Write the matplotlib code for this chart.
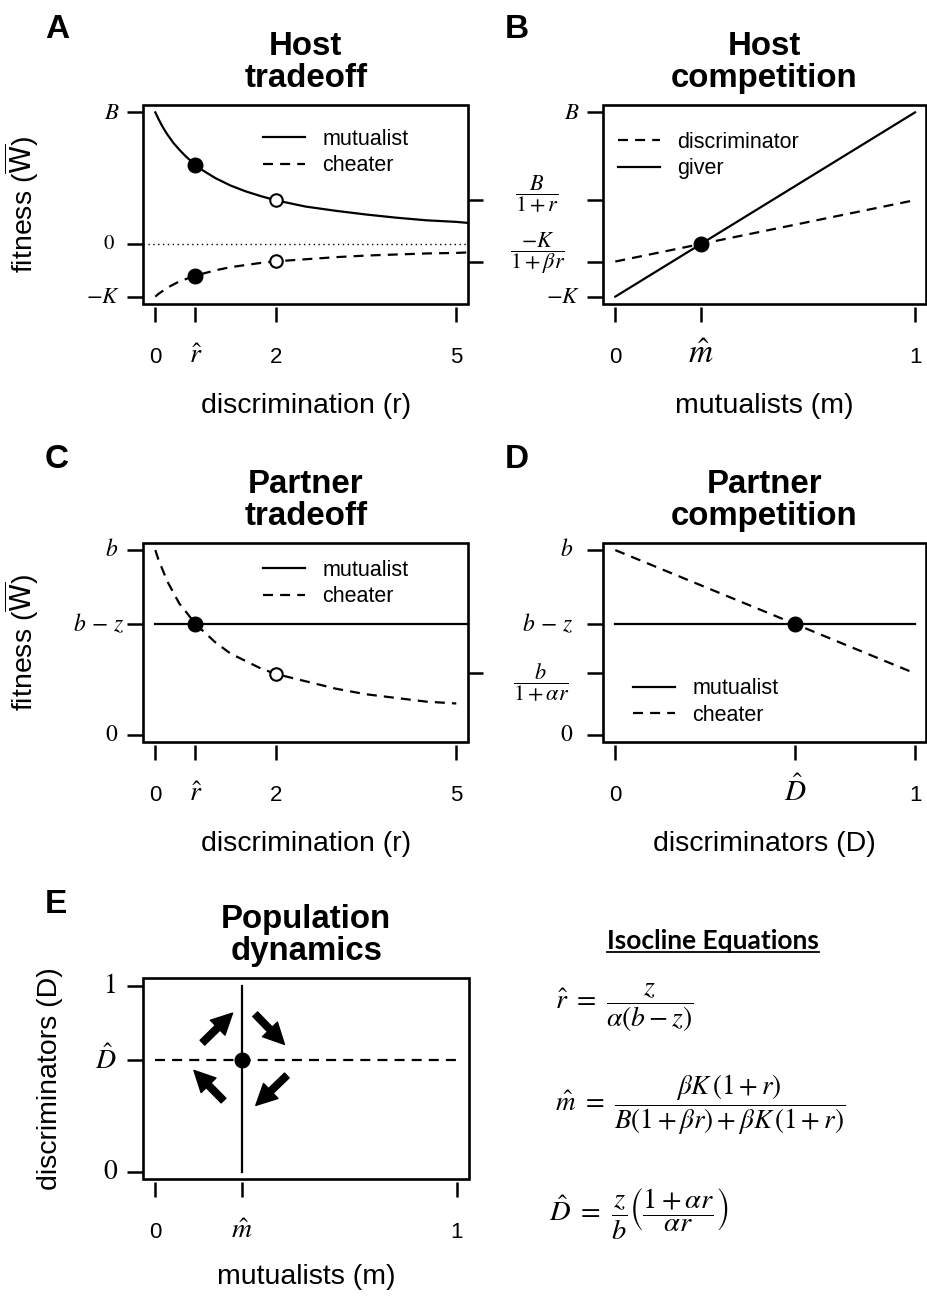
import matplotlib

matplotlib.use("Agg")
import matplotlib.pyplot as plt
from matplotlib.lines import Line2D
from matplotlib.patches import Rectangle
from matplotlib.transforms import ScaledTranslation

W, H, DPI = 927, 1296, 100

plt.rcParams["font.family"] = "Liberation Sans"
plt.rcParams["mathtext.fontset"] = "stix"

# ---- values ----
R_HAT = 0.667
M_HAT = 0.286
D_HAT = 0.6

R_GRID = [0, 0.05, 0.1, 0.15, 0.2, 0.3, 0.4, 0.5, 0.667, 0.8, 1.0, 1.25,
          1.5, 1.75, 2.0, 2.5, 3.0, 3.5, 4.0, 4.5, 5.0, 5.2]
HOST_MUTUALIST = [2.50, 2.38, 2.27, 2.17, 2.08, 1.92, 1.79, 1.67, 1.50, 1.39,
                  1.25, 1.11, 1.00, 0.91, 0.83, 0.71, 0.63, 0.56, 0.50, 0.45,
                  0.42, 0.40]
HOST_CHEATER = [-1.00, -0.95, -0.91, -0.87, -0.83, -0.77, -0.71, -0.67, -0.60,
                -0.56, -0.50, -0.44, -0.40, -0.36, -0.33, -0.29, -0.25, -0.22,
                -0.20, -0.18, -0.17, -0.16]
HOST_FILLED_Y = [1.50, -0.60]
HOST_OPEN_Y = [0.83, -0.33]

PARTNER_CHEATER = [1.00, 0.95, 0.91, 0.87, 0.83, 0.77, 0.71, 0.67, 0.60, 0.56,
                   0.50, 0.44, 0.40, 0.36, 0.33, 0.29, 0.25, 0.22, 0.20, 0.18,
                   0.17]
PARTNER_MUT_R = [0, 5.2]
PARTNER_MUTUALIST = [0.6, 0.6]
PARTNER_FILLED_Y = [0.6]
PARTNER_OPEN_Y = [0.33]

M_ENDS = [0, 1]
GIVER = [-1.0, 2.5]
DISCRIMINATOR = [-0.333, 0.833]

D_ENDS = [0, 1]
D_MUTUALIST = [0.6, 0.6]
D_CHEATER = [1.0, 0.333]

ARROW_START = [(0.156, 0.694), (0.331, 0.847), (0.436, 0.518), (0.226, 0.383)]
ARROW_END = [(0.256, 0.853), (0.428, 0.685), (0.333, 0.357), (0.128, 0.545)]

# tick positions / labels
R_TICKS = [0, R_HAT, 2, 5]
R_LABELS = ["0", r"$\hat{r}$", "2", "5"]
UNIT_TICKS_M = [0, M_HAT, 1]
UNIT_TICKS_D = [0, D_HAT, 1]

LW = 1.6
DASH = (0, (4.5, 3.2))
DIGIT = 16

fig = plt.figure(figsize=(W / DPI, H / DPI), dpi=DPI)


def px(dx, dy):
    return ScaledTranslation(dx / DPI, dy / DPI, fig.dpi_scale_trans)


def make_axes(box, xlim, ylim):
    l, t, r, b = box
    ax = fig.add_axes([l / W, 1 - b / H, (r - l) / W, (b - t) / H])
    ax.set_xlim(xlim)
    ax.set_ylim(ylim)
    for s in ax.spines.values():
        s.set_visible(False)
    ax.spines["bottom"].set_position(("outward", 2.2))
    ax.add_patch(Rectangle((0, 0), 1, 1, transform=ax.transAxes, fill=False,
                           lw=1.9, clip_on=False, zorder=5))
    ax.tick_params(axis="x", length=10.8, width=1.8, labelbottom=False)
    ax.tick_params(axis="y", length=11.5, width=1.8, labelleft=False)
    return ax


def xticklabels(ax, ticks, labels, sizes):
    ax.set_xticks(ticks)
    tr = ax.get_xaxis_transform() + px(0, -59)
    for x, s, fs in zip(ticks, labels, sizes):
        ax.text(x, 0, s, transform=tr, ha="center", va="baseline", fontsize=fs)


def yticklabel(ax, y, s, fs, gap, dy=0, ha="right"):
    tr = ax.get_yaxis_transform() + px(-gap, dy)
    ax.text(0, y, s, transform=tr, ha=ha, va="center", fontsize=fs)


def titles(ax, top, bottom, letter, pos):
    tr1 = ax.transAxes + px(0, 50)
    tr2 = ax.transAxes + px(0, 18)
    ax.text(0.5, 1, top, transform=tr1, ha="center", va="baseline",
            fontsize=23.8, fontweight="bold")
    ax.text(0.5, 1, bottom, transform=tr2, ha="center", va="baseline",
            fontsize=23.8, fontweight="bold")
    fig.text(pos[0] / W, 1 - pos[1] / H, letter, ha="left", va="baseline",
             fontsize=24, fontweight="bold")


def xlabel(ax, s, below=109):
    ax.text(0.5, 0, s, transform=ax.transAxes + px(0, -below), ha="center",
            va="baseline", fontsize=20.5)


def ylabel(ax, s, left, **kw):
    ax.text(0, 0.5, s, transform=ax.transAxes + px(-left, 0), ha="center",
            va="baseline", rotation=90, rotation_mode="anchor", fontsize=20.5,
            **kw)


def legend(ax, handles, labels, x, y):
    ax.legend(handles, labels, loc="upper left", bbox_to_anchor=(x, y),
              frameon=False, fontsize=15.5, handlelength=1.95,
              handletextpad=0.8, labelspacing=0.26, borderpad=0,
              borderaxespad=0)


W_LABEL = r"fitness ($\overline{\mathrm{W}}$)"

# ---------------- A: host tradeoff ----------------
axA = make_axes((143.3, 105, 468.3, 304), (-0.2, 5.2), (-1.14, 2.64))
titles(axA, "Host", "tradeoff", "A", (45, 38))
lm, = axA.plot(R_GRID, HOST_MUTUALIST, color="black", lw=LW)
lc, = axA.plot(R_GRID, HOST_CHEATER, color="black", lw=LW, ls=DASH)
axA.axhline(0, color="black", lw=1.0, ls=(0, (1, 2.5)))
axA.plot([R_HAT, R_HAT], HOST_FILLED_Y, "o", color="black", ms=10.5, zorder=4)
axA.plot([2, 2], HOST_OPEN_Y, "o", mfc="white", mec="black", mew=1.5, ms=9,
         zorder=4)
xticklabels(axA, R_TICKS, R_LABELS, [DIGIT, 20, DIGIT, DIGIT])
axA.set_yticks([2.5, 0, -1])
yticklabel(axA, 2.5, r"$B$", 16.5, 24)
yticklabel(axA, 0, r"$0$", 15, 28)
yticklabel(axA, -1, r"$-K$", 16.5, 23)
secA = axA.secondary_yaxis("right")
secA.set_yticks([0.833, -0.333])
secA.tick_params(length=11, width=1.8, labelright=False)
secA.spines["right"].set_visible(False)
xlabel(axA, "discrimination (r)")
ylabel(axA, W_LABEL, 110, math_fontfamily="dejavusans")
legend(axA, [lm, lc], ["mutualist", "cheater"], 0.368, 0.88)

# ---------------- B: host competition ----------------
axB = make_axes((603.3, 105, 925.5, 304), (-0.04, 1.035), (-1.14, 2.64))
titles(axB, "Host", "competition", "B", (505, 38))
ld, = axB.plot(M_ENDS, DISCRIMINATOR, color="black", lw=LW, ls=DASH)
lg, = axB.plot(M_ENDS, GIVER, color="black", lw=LW)
axB.plot([M_HAT], [0], "o", color="black", ms=10.5, zorder=4)
xticklabels(axB, UNIT_TICKS_M, ["0", r"$\hat{m}$", "1"], [DIGIT, 24, DIGIT])
axB.set_yticks([2.5, 0.833, -0.333, -1])
yticklabel(axB, 2.5, r"$B$", 16.5, 24)
yticklabel(axB, 0.833, r"$\dfrac{B}{1+r}$", 16, 66, dy=6, ha="center")
yticklabel(axB, -0.333, r"$\dfrac{-K}{1+\beta r}$", 16, 66, dy=8, ha="center")
yticklabel(axB, -1, r"$-K$", 16.5, 23)
xlabel(axB, "mutualists (m)")
legend(axB, [ld, lg], ["discriminator", "giver"], 0.045, 0.865)

# ---------------- C: partner tradeoff ----------------
axC = make_axes((143.3, 542.7, 468.3, 742.3), (-0.2, 5.2), (-0.04, 1.04))
titles(axC, "Partner", "tradeoff", "C", (45, 468))
lm, = axC.plot(PARTNER_MUT_R, PARTNER_MUTUALIST, color="black", lw=LW)
lc, = axC.plot(R_GRID[:-1], PARTNER_CHEATER, color="black", lw=LW, ls=DASH)
axC.plot([R_HAT], PARTNER_FILLED_Y, "o", color="black", ms=10.5, zorder=4)
axC.plot([2], PARTNER_OPEN_Y, "o", mfc="white", mec="black", mew=1.5, ms=9,
         zorder=4)
xticklabels(axC, R_TICKS, R_LABELS, [DIGIT, 20, DIGIT, DIGIT])
axC.set_yticks([1, 0.6, 0])
yticklabel(axC, 1, r"$b$", 17, 25)
yticklabel(axC, 0.6, r"$b\,-\,z$", 17, 19)
yticklabel(axC, 0, r"$0$", 17, 25)
secC = axC.secondary_yaxis("right")
secC.set_yticks([0.333])
secC.tick_params(length=11, width=1.8, labelright=False)
secC.spines["right"].set_visible(False)
xlabel(axC, "discrimination (r)")
ylabel(axC, W_LABEL, 110, math_fontfamily="dejavusans")
legend(axC, [lm, lc], ["mutualist", "cheater"], 0.368, 0.915)

# ---------------- D: partner competition ----------------
axD = make_axes((603.3, 542.7, 925.5, 742.3), (-0.04, 1.035), (-0.04, 1.04))
titles(axD, "Partner", "competition", "D", (505, 468))
lm, = axD.plot(D_ENDS, D_MUTUALIST, color="black", lw=LW)
lc, = axD.plot(D_ENDS, D_CHEATER, color="black", lw=LW, ls=DASH)
axD.plot([D_HAT], [0.6], "o", color="black", ms=10.5, zorder=4)
xticklabels(axD, UNIT_TICKS_D, ["0", r"$\hat{D}$", "1"], [DIGIT, 21, DIGIT])
axD.set_yticks([1, 0.6, 0.333, 0])
yticklabel(axD, 1, r"$b$", 17, 30)
yticklabel(axD, 0.6, r"$b\,-\,z$", 17, 30)
yticklabel(axD, 0.333, r"$\dfrac{b}{1+\alpha r}$", 16, 62, dy=-9, ha="center")
yticklabel(axD, 0, r"$0$", 17, 30)
xlabel(axD, "discriminators (D)")
legend(axD, [lm, lc], ["mutualist", "cheater"], 0.093, 0.32)

# ---------------- E: population dynamics ----------------
axE = make_axes((143.3, 978.3, 469, 1179.3), (-0.04, 1.04), (-0.04, 1.04))
titles(axE, "Population", "dynamics", "E", (45, 913))
axE.plot([M_HAT, M_HAT], [0, 1], color="black", lw=LW)
axE.plot([0, 1], [D_HAT, D_HAT], color="black", lw=LW, ls=DASH)
axE.plot([M_HAT], [D_HAT], "o", color="black", ms=10.5, zorder=4)
for s, e in zip(ARROW_START, ARROW_END):
    axE.annotate("", xy=e, xytext=s,
                 arrowprops=dict(arrowstyle="simple,head_length=1.0,"
                                 "head_width=1.0,tail_width=0.32",
                                 color="black", shrinkA=0, shrinkB=0,
                                 mutation_scale=15))
xticklabels(axE, UNIT_TICKS_M, ["0", r"$\hat{m}$", "1"], [DIGIT, 20, DIGIT])
axE.set_yticks([1, D_HAT, 0])
yticklabel(axE, 1, r"$1$", 20, 27)
yticklabel(axE, D_HAT, r"$\hat{D}$", 20, 27)
yticklabel(axE, 0, r"$0$", 20, 25)
xlabel(axE, "mutualists (m)", below=105)
ylabel(axE, "discriminators (D)", 86)

# ---------------- isocline equations ----------------
head = fig.text(713 / W, 1 - 949 / H, "Isocline Equations", ha="center",
                va="baseline", fontsize=19, fontweight="bold", family="Lato")
fig.text(555 / W, 1 - 1008 / H, r"$\hat{r}\ =\ \dfrac{z}{\alpha(b-z)}$",
         ha="left", va="center", fontsize=20)
fig.text(555 / W, 1 - 1105 / H,
         r"$\hat{m}\ =\ \dfrac{\beta K\,(1+r)}{B(1+\beta r)+\beta K\,(1+r)}$",
         ha="left", va="center", fontsize=19.5)
fig.text(549 / W, 1 - 1213 / H,
         r"$\hat{D}\ =\ \dfrac{z}{b}\left(\dfrac{1+\alpha r}{\alpha r}\right)$",
         ha="left", va="center", fontsize=20.5)

fig.canvas.draw()
bb = head.get_window_extent()
fig.add_artist(Line2D([bb.x0 / W, bb.x1 / W], [1 - 952 / H, 1 - 952 / H],
                      color="black", lw=1.3))

fig.savefig("out.png", dpi=DPI)
